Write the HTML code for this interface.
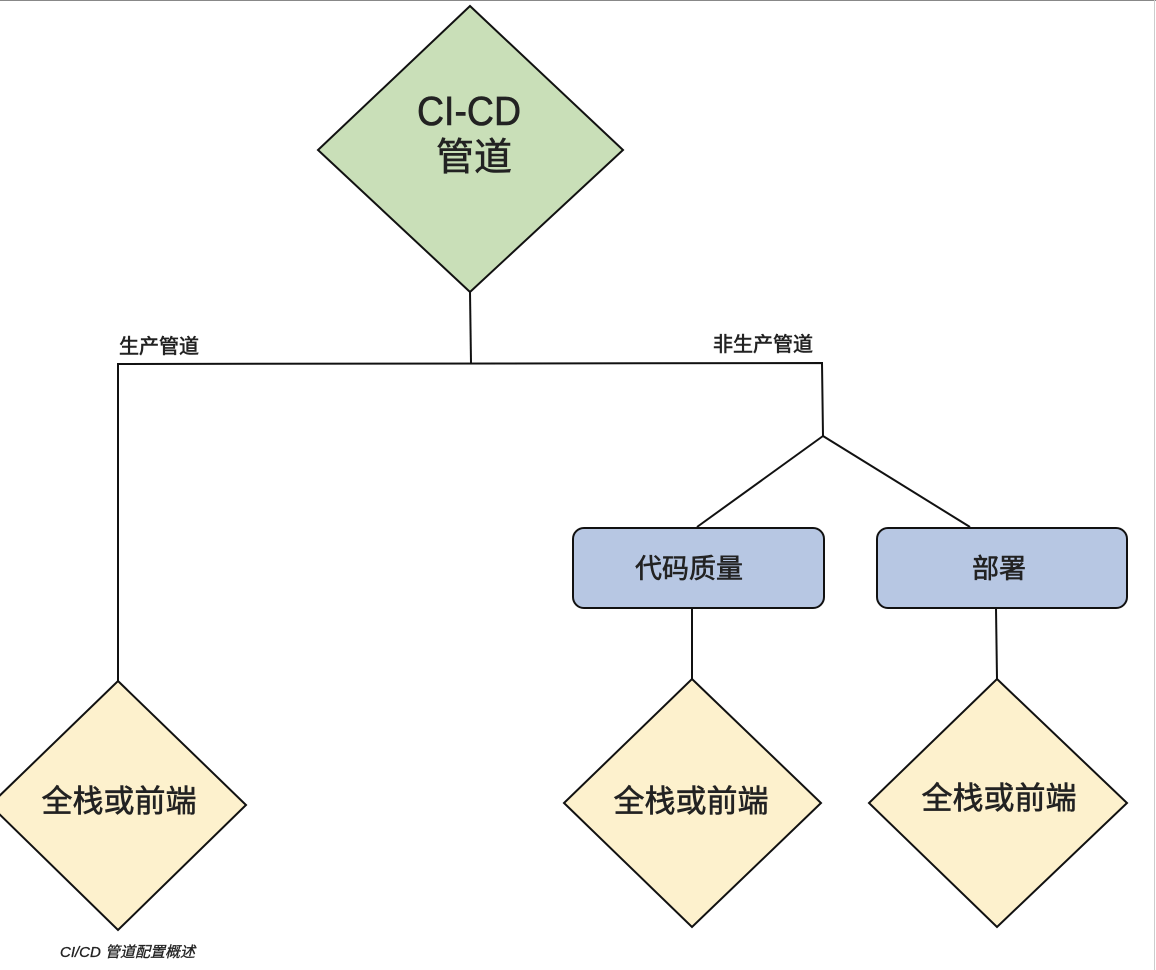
<!DOCTYPE html>
<html><head><meta charset="utf-8"><style>
html,body{margin:0;padding:0;background:#fff;}
svg{display:block;}
text{font-family:"Liberation Sans","Noto Sans CJK SC",sans-serif;fill:#222;}
.m{stroke:#222;stroke-width:0.6;}
</style></head><body>
<svg width="1156" height="970" viewBox="0 0 1156 970" xmlns="http://www.w3.org/2000/svg">
<line x1="0" y1="0.5" x2="1156" y2="0.5" stroke="#888" stroke-width="1"/>
<line x1="1154.5" y1="0" x2="1154.5" y2="970" stroke="#ccc" stroke-width="1"/>
<g stroke="#111" stroke-width="2" fill="none">
<line x1="470" y1="292" x2="471" y2="363"/>
<polyline points="118,681 118,364 822,363 823,436"/>
<line x1="823" y1="436" x2="697" y2="527"/>
<line x1="823" y1="436" x2="970" y2="527"/>
<line x1="692" y1="608" x2="692" y2="679"/>
<line x1="996" y1="608" x2="997" y2="679"/>
</g>
<polygon points="470,6 623,150 470,292 318,150" fill="#c9dfb8" stroke="#111" stroke-width="2"/>
<text x="469" y="125" font-size="41" text-anchor="middle" class="m" textLength="104" lengthAdjust="spacingAndGlyphs">CI-CD</text>
<text x="474" y="170" font-size="38" text-anchor="middle" class="m">管道</text>
<text x="119" y="353" font-size="20" class="m">生产管道</text>
<text x="713" y="351" font-size="20" class="m">非生产管道</text>
<rect x="573" y="528" width="251" height="80" rx="11" fill="#b7c7e3" stroke="#111" stroke-width="2"/>
<rect x="877" y="528" width="250" height="80" rx="11" fill="#b7c7e3" stroke="#111" stroke-width="2"/>
<text x="689" y="578" font-size="27" text-anchor="middle" class="m">代码质量</text>
<text x="999" y="578" font-size="27" text-anchor="middle" class="m">部署</text>
<polygon points="118,681 246,805 118,930 -10,805" fill="#fdf1cd" stroke="#111" stroke-width="2"/>
<polygon points="692,679 821,803 692,927 564,803" fill="#fdf1cd" stroke="#111" stroke-width="2"/>
<polygon points="997,679 1127,803 997,927 869,803" fill="#fdf1cd" stroke="#111" stroke-width="2"/>
<text x="119" y="812" font-size="31" text-anchor="middle" class="m">全栈或前端</text>
<text x="691" y="812" font-size="31" text-anchor="middle" class="m">全栈或前端</text>
<text x="999" y="809" font-size="31" text-anchor="middle" class="m">全栈或前端</text>
<text x="60" y="957" font-size="15" font-style="italic" stroke="#222" stroke-width="0.3">CI/CD 管道配置概述</text>
</svg>
</body></html>
